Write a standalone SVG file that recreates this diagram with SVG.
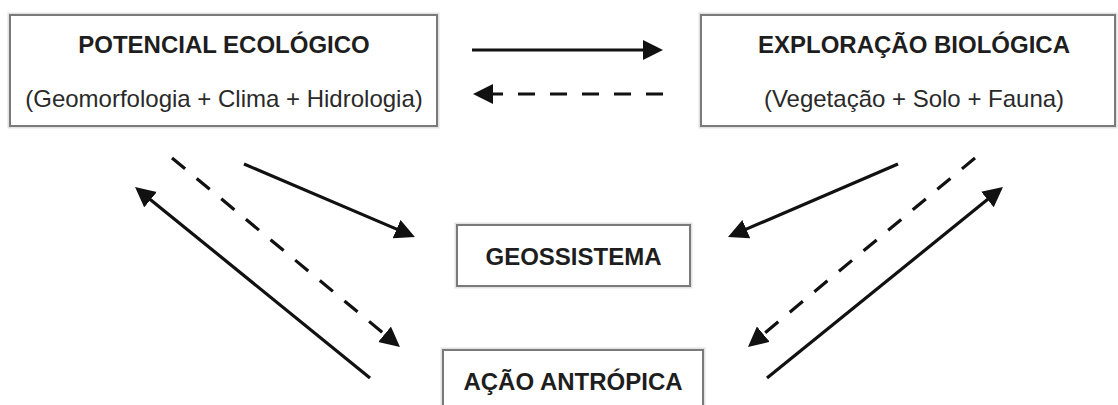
<svg xmlns="http://www.w3.org/2000/svg" width="1118" height="405" viewBox="0 0 1118 405">
<defs>
<style>
.halo{fill:none;stroke:#e2e2e2;stroke-width:5}
.box{fill:#ffffff;stroke:#7a7a7a;stroke-width:2}
.title{font-family:"Liberation Sans",Arial,sans-serif;font-size:24px;font-weight:bold;fill:#1e1e1e;text-anchor:middle}
.sub{font-family:"Liberation Sans",Arial,sans-serif;font-size:24px;fill:#2a2a2a;text-anchor:middle}
.arr{fill:none;stroke:#111;stroke-width:3.2;marker-end:url(#ah)}
.dash{stroke-dasharray:17 15}
</style>
<marker id="ah" markerUnits="userSpaceOnUse" markerWidth="26" markerHeight="26" refX="2" refY="10" orient="auto">
<path d="M0,0 L20,10 L0,20 Z" fill="#111"/>
</marker>
</defs>
<rect width="1118" height="405" fill="#ffffff"/>
<g id="potencial">
<rect class="halo" x="10" y="15" width="427" height="111"/>
<rect class="box" x="10" y="15" width="427" height="111"/>
<text class="title" x="224" y="53">POTENCIAL ECOLÓGICO</text>
<text class="sub" x="224" y="107">(Geomorfologia + Clima + Hidrologia)</text>
</g>
<g id="exploracao">
<rect class="halo" x="701" y="15" width="414" height="111"/>
<rect class="box" x="701" y="15" width="414" height="111"/>
<text class="title" x="914" y="53">EXPLORAÇÃO BIOLÓGICA</text>
<text class="sub" x="914" y="107">(Vegetação + Solo + Fauna)</text>
</g>
<g id="geossistema">
<rect class="halo" x="457" y="225" width="233" height="61"/>
<rect class="box" x="457" y="225" width="233" height="61"/>
<text class="title" x="573.5" y="265">GEOSSISTEMA</text>
</g>
<g id="acao">
<rect class="halo" x="443" y="350" width="260" height="70"/>
<rect class="box" x="443" y="350" width="260" height="70"/>
<text class="title" x="573" y="390">AÇÃO ANTRÓPICA</text>
</g>
<g id="connectors">
<line class="arr" x1="472" y1="50" x2="645" y2="50"/>
<line class="arr dash" x1="663" y1="94" x2="491" y2="94"/>
<line class="arr" x1="244" y1="164" x2="398.4" y2="229.9"/>
<line class="arr dash" x1="172" y1="158" x2="386.1" y2="335.5"/>
<line class="arr" x1="370" y1="378" x2="149" y2="198.4"/>
<line class="arr" x1="898" y1="164" x2="744.5" y2="229.9"/>
<line class="arr dash" x1="975" y1="158" x2="761.8" y2="335.5"/>
<line class="arr" x1="767" y1="378" x2="989" y2="198.3"/>
</g>
</svg>
